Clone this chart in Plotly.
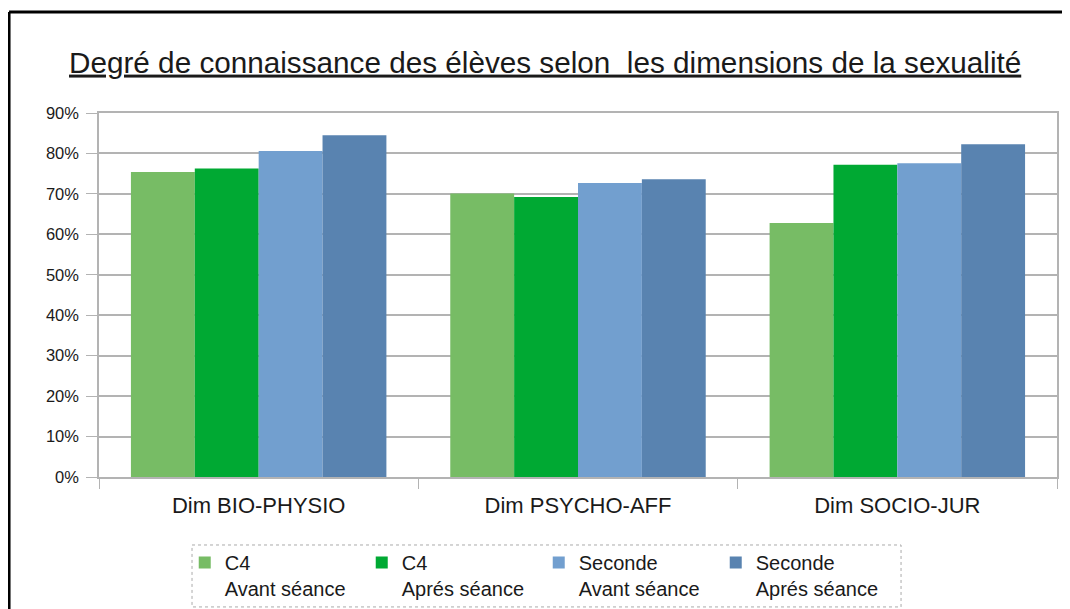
import plotly.graph_objects as go

# Categories and series values
dimensions = ['Dim BIO-PHYSIO', 'Dim PSYCHO-AFF', 'Dim SOCIO-JUR']
series_names = ['C4<br>Avant séance', 'C4<br>Aprés séance',
                'Seconde<br>Avant séance', 'Seconde<br>Aprés séance']
c4_avant = [0.754, 0.701, 0.628]
c4_apres = [0.763, 0.692, 0.772]
seconde_avant = [0.806, 0.727, 0.776]
seconde_apres = [0.845, 0.736, 0.823]
colors = ['#77bc65', '#00a933', '#729fcf', '#5983b0']

font_family = 'Liberation Sans, Arial, sans-serif'

fig = go.Figure()
for name, vals, col in zip(series_names,
                           [c4_avant, c4_apres, seconde_avant, seconde_apres],
                           colors):
    fig.add_trace(go.Bar(
        x=dimensions, y=vals, name=name,
        marker=dict(color=col, line=dict(width=0)),
    ))

# page body adds an 8px offset, so margins are shifted by that amount
fig.update_layout(
    width=1070, height=609,
    margin=dict(l=91, r=21, t=105, b=140, autoexpand=False),
    paper_bgcolor='white', plot_bgcolor='white',
    font=dict(family=font_family, color='#1a1a1a'),
    barmode='group', bargap=0.2, bargroupgap=0,
    title=dict(
        text='<u>Degré de connaissance des élèves selon  les dimensions de la sexualité</u>',
        x=0.502, xref='container', xanchor='center',
        y=0.911, yref='container', yanchor='middle',
        font=dict(size=29.7, color='#1a1a1a'),
    ),
    xaxis=dict(
        showgrid=False, showline=True, linecolor='#b3b3b3', linewidth=1.5,
        mirror=True,
        ticks='outside', tickson='boundaries', ticklen=10, tickcolor='#b3b3b3',
        tickfont=dict(size=22), ticklabelstandoff=8,
    ),
    yaxis=dict(
        range=[0, 0.9], dtick=0.1, tickformat='.0%',
        showgrid=True, gridcolor='#b3b3b3', gridwidth=1.5,
        showline=True, linecolor='#b3b3b3', linewidth=1.5, mirror=True,
        ticks='outside', ticklen=11, tickcolor='#b3b3b3',
        tickfont=dict(size=16.5), zeroline=False, ticklabelstandoff=4,
    ),
    showlegend=True,
    legend=dict(
        orientation='h', x=0.0895, xanchor='left', y=-0.181, yanchor='top',
        entrywidth=132, entrywidthmode='pixels', valign='top',
        font=dict(size=20, color='#1a1a1a'), bgcolor='rgba(0,0,0,0)',
        traceorder='normal',
    ),
    shapes=[
        # outer chart frame (top and left edges visible)
        dict(type='line', xref='paper', yref='paper', x0=-0.0939, x1=1.03,
             y0=1.2775, y1=1.2775, line=dict(color='black', width=3)),
        dict(type='line', xref='paper', yref='paper', x0=-0.0939, x1=-0.0939,
             y0=1.2775, y1=-0.4, line=dict(color='black', width=3)),
        # dotted legend box
        dict(type='rect', xref='paper', yref='paper', x0=0.0971, x1=0.8372,
             y0=-0.1868, y1=-0.357, line=dict(color='#aaaaaa', width=1, dash='dot')),
    ],
)

fig.write_html('out.html')
